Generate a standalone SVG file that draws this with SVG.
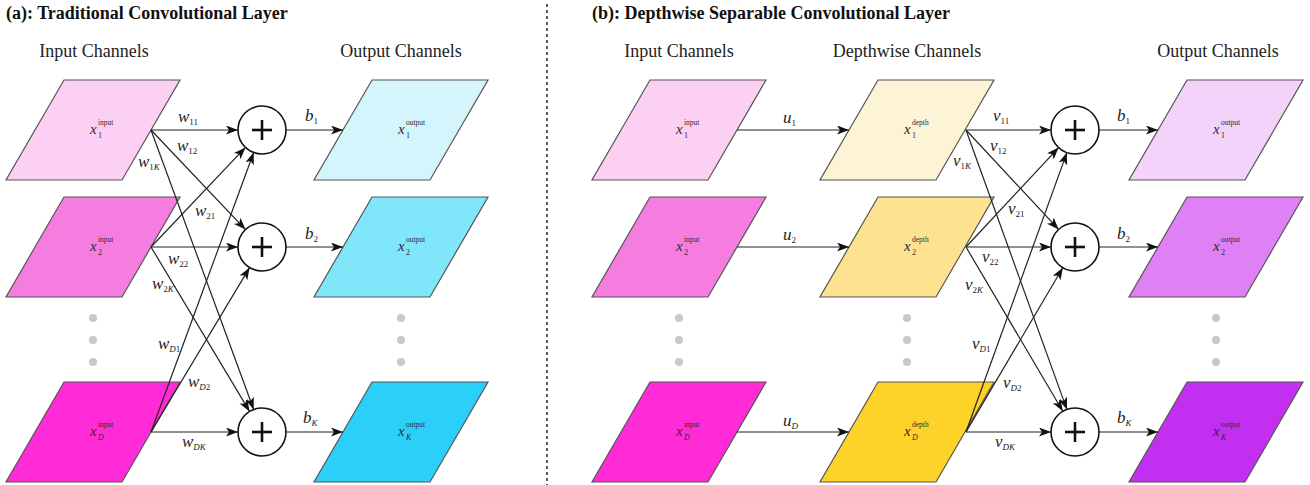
<svg xmlns="http://www.w3.org/2000/svg" width="1310" height="485" viewBox="0 0 1310 485">
<defs>
<style>
text{font-family:"Liberation Serif","Times New Roman",Times,"DejaVu Serif",serif}
.title{font-weight:bold;font-size:18px;fill:#111}
.head{font-size:18px;fill:#222;text-anchor:middle}
.pg{stroke:#555;stroke-width:1.2}
.xl{font-style:italic;font-size:15px;fill:#332833}
.sup{font-size:7.5px;fill:#332833}
.sb{font-size:8px;fill:#332833}
.sbi{font-size:8px;font-style:italic;fill:#332833}
.lb{font-style:italic;font-size:17px;fill:#222}
.s{font-style:normal;font-size:9px}
.si{font-style:italic;font-size:9px}
.cn line{stroke:#222;stroke-width:1.2;marker-end:url(#ah)}
.sum circle{fill:#fff;stroke:#111;stroke-width:1.6}
.sum line{stroke:#111;stroke-width:2.6}
.dot{fill:#c9c9c9}
</style>
<marker id="ah" markerUnits="userSpaceOnUse" markerWidth="13" markerHeight="10" refX="12" refY="4.5" orient="auto">
<path d="M0,0 L12,4.5 L0,9 L3,4.5 z" fill="#111"/>
</marker>
<polygon id="pg" points="58,0 174,0 116,100 0,100"/>
</defs>
<rect width="1310" height="485" fill="#fff"/>

<text class="title" x="6" y="19">(a): Traditional Convolutional Layer</text>
<text class="title" x="592" y="19">(b): Depthwise Separable Convolutional Layer</text>
<line x1="547" y1="4" x2="547" y2="485" stroke="#333" stroke-width="1.6" stroke-dasharray="3,3"/>

<text class="head" x="94" y="57">Input Channels</text>
<text class="head" x="401" y="57">Output Channels</text>
<text class="head" x="679" y="57">Input Channels</text>
<text class="head" x="907" y="57">Depthwise Channels</text>
<text class="head" x="1218" y="57">Output Channels</text>

<!-- Left input channels -->
<g id="a-in1"><use href="#pg" x="6" y="80" class="pg" fill="#fbd0f3"/>
<text class="xl" x="90" y="134">x</text><text class="sup" x="98" y="125">input</text><text class="sb" x="98" y="138">1</text></g>
<g id="a-in2"><use href="#pg" x="6" y="197" class="pg" fill="#f57de0"/>
<text class="xl" x="90" y="251">x</text><text class="sup" x="98" y="242">input</text><text class="sb" x="98" y="255">2</text></g>
<g id="a-inD"><use href="#pg" x="6" y="382" class="pg" fill="#ff2bd6"/>
<text class="xl" x="90" y="436">x</text><text class="sup" x="98" y="427">input</text><text class="sbi" x="98" y="440">D</text></g>
<g id="a-dots-in"><circle class="dot" cx="93" cy="318" r="4"/><circle class="dot" cx="93" cy="340" r="4"/><circle class="dot" cx="93" cy="362" r="4"/></g>

<!-- Left output channels -->
<g id="a-out1"><use href="#pg" x="314" y="80" class="pg" fill="#d5f5fc"/>
<text class="xl" x="398" y="134">x</text><text class="sup" x="406" y="125">output</text><text class="sb" x="406" y="138">1</text></g>
<g id="a-out2"><use href="#pg" x="314" y="197" class="pg" fill="#80e6f9"/>
<text class="xl" x="398" y="251">x</text><text class="sup" x="406" y="242">output</text><text class="sb" x="406" y="255">2</text></g>
<g id="a-outK"><use href="#pg" x="314" y="382" class="pg" fill="#2bd0f9"/>
<text class="xl" x="398" y="436">x</text><text class="sup" x="406" y="427">output</text><text class="sbi" x="406" y="440">K</text></g>
<g id="a-dots-out"><circle class="dot" cx="401" cy="318" r="4"/><circle class="dot" cx="401" cy="340" r="4"/><circle class="dot" cx="401" cy="362" r="4"/></g>

<!-- Right input channels -->
<g id="b-in1"><use href="#pg" x="592" y="80" class="pg" fill="#fbd0f3"/>
<text class="xl" x="676" y="134">x</text><text class="sup" x="684" y="125">input</text><text class="sb" x="684" y="138">1</text></g>
<g id="b-in2"><use href="#pg" x="592" y="197" class="pg" fill="#f57de0"/>
<text class="xl" x="676" y="251">x</text><text class="sup" x="684" y="242">input</text><text class="sb" x="684" y="255">2</text></g>
<g id="b-inD"><use href="#pg" x="592" y="382" class="pg" fill="#ff2bd6"/>
<text class="xl" x="676" y="436">x</text><text class="sup" x="684" y="427">input</text><text class="sbi" x="684" y="440">D</text></g>
<g id="b-dots-in"><circle class="dot" cx="679" cy="318" r="4"/><circle class="dot" cx="679" cy="340" r="4"/><circle class="dot" cx="679" cy="362" r="4"/></g>

<!-- Depthwise channels -->
<g id="b-dep1"><use href="#pg" x="820" y="80" class="pg" fill="#fdf4d5"/>
<text class="xl" x="904" y="134">x</text><text class="sup" x="912" y="125">depth</text><text class="sb" x="912" y="138">1</text></g>
<g id="b-dep2"><use href="#pg" x="820" y="197" class="pg" fill="#fde38f"/>
<text class="xl" x="904" y="251">x</text><text class="sup" x="912" y="242">depth</text><text class="sb" x="912" y="255">2</text></g>
<g id="b-depD"><use href="#pg" x="820" y="382" class="pg" fill="#fdd32a"/>
<text class="xl" x="904" y="436">x</text><text class="sup" x="912" y="427">depth</text><text class="sbi" x="912" y="440">D</text></g>
<g id="b-dots-dep"><circle class="dot" cx="907" cy="318" r="4"/><circle class="dot" cx="907" cy="340" r="4"/><circle class="dot" cx="907" cy="362" r="4"/></g>

<!-- Right output channels -->
<g id="b-out1"><use href="#pg" x="1129" y="80" class="pg" fill="#f4d3fb"/>
<text class="xl" x="1213" y="134">x</text><text class="sup" x="1221" y="125">output</text><text class="sb" x="1221" y="138">1</text></g>
<g id="b-out2"><use href="#pg" x="1129" y="197" class="pg" fill="#e080f5"/>
<text class="xl" x="1213" y="251">x</text><text class="sup" x="1221" y="242">output</text><text class="sb" x="1221" y="255">2</text></g>
<g id="b-outK"><use href="#pg" x="1129" y="382" class="pg" fill="#c22ff0"/>
<text class="xl" x="1213" y="436">x</text><text class="sup" x="1221" y="427">output</text><text class="sbi" x="1221" y="440">K</text></g>
<g id="b-dots-out"><circle class="dot" cx="1216" cy="318" r="4"/><circle class="dot" cx="1216" cy="340" r="4"/><circle class="dot" cx="1216" cy="362" r="4"/></g>

<!-- Sum nodes -->
<g id="a-sum1" class="sum"><circle cx="262" cy="130" r="24"/><line x1="252" y1="130" x2="272" y2="130"/><line x1="262" y1="120" x2="262" y2="140"/></g>
<g id="a-sum2" class="sum"><circle cx="262" cy="247" r="24"/><line x1="252" y1="247" x2="272" y2="247"/><line x1="262" y1="237" x2="262" y2="257"/></g>
<g id="a-sumK" class="sum"><circle cx="262" cy="432" r="24"/><line x1="252" y1="432" x2="272" y2="432"/><line x1="262" y1="422" x2="262" y2="442"/></g>
<g id="b-sum1" class="sum"><circle cx="1075" cy="130" r="24"/><line x1="1065" y1="130" x2="1085" y2="130"/><line x1="1075" y1="120" x2="1075" y2="140"/></g>
<g id="b-sum2" class="sum"><circle cx="1075" cy="247" r="24"/><line x1="1065" y1="247" x2="1085" y2="247"/><line x1="1075" y1="237" x2="1075" y2="257"/></g>
<g id="b-sumK" class="sum"><circle cx="1075" cy="432" r="24"/><line x1="1065" y1="432" x2="1085" y2="432"/><line x1="1075" y1="422" x2="1075" y2="442"/></g>

<!-- Connectors -->
<g id="connectors" class="cn">
<line x1="151" y1="130" x2="238" y2="130"/>
<line x1="151" y1="130" x2="245.5" y2="229.6"/>
<line x1="151" y1="130" x2="253.7" y2="409.5"/>
<line x1="151" y1="247" x2="245.5" y2="147.4"/>
<line x1="151" y1="247" x2="238" y2="247"/>
<line x1="151" y1="247" x2="249.6" y2="411.4"/>
<line x1="151" y1="432" x2="253.7" y2="152.5"/>
<line x1="151" y1="432" x2="249.6" y2="267.6"/>
<line x1="151" y1="432" x2="238" y2="432"/>
<line x1="286" y1="130" x2="343" y2="130"/>
<line x1="286" y1="247" x2="343" y2="247"/>
<line x1="286" y1="432" x2="343" y2="432"/>

<line x1="737" y1="130" x2="849" y2="130"/>
<line x1="737" y1="247" x2="849" y2="247"/>
<line x1="737" y1="432" x2="849" y2="432"/>

<line x1="966" y1="130" x2="1051" y2="130"/>
<line x1="966" y1="130" x2="1058.6" y2="229.4"/>
<line x1="966" y1="130" x2="1066.9" y2="409.4"/>
<line x1="966" y1="247" x2="1058.6" y2="147.6"/>
<line x1="966" y1="247" x2="1051" y2="247"/>
<line x1="966" y1="247" x2="1062.8" y2="411.3"/>
<line x1="966" y1="432" x2="1066.9" y2="152.6"/>
<line x1="966" y1="432" x2="1062.8" y2="267.7"/>
<line x1="966" y1="432" x2="1051" y2="432"/>
<line x1="1099" y1="130" x2="1158" y2="130"/>
<line x1="1099" y1="247" x2="1158" y2="247"/>
<line x1="1099" y1="432" x2="1158" y2="432"/>
</g>

<!-- Connector labels -->
<g id="labels">
<text class="lb" x="178" y="122">w<tspan class="s" dy="3">11</tspan></text>
<text class="lb" x="177" y="151">w<tspan class="s" dy="3">12</tspan></text>
<text class="lb" x="138" y="167">w<tspan class="s" dy="3">1</tspan><tspan class="si">K</tspan></text>
<text class="lb" x="195" y="216">w<tspan class="s" dy="3">21</tspan></text>
<text class="lb" x="168" y="264">w<tspan class="s" dy="3">22</tspan></text>
<text class="lb" x="152" y="289">w<tspan class="s" dy="3">2</tspan><tspan class="si">K</tspan></text>
<text class="lb" x="158" y="349">w<tspan class="si" dy="3">D</tspan><tspan class="s">1</tspan></text>
<text class="lb" x="188" y="387">w<tspan class="si" dy="3">D</tspan><tspan class="s">2</tspan></text>
<text class="lb" x="182" y="447">w<tspan class="si" dy="3">DK</tspan></text>
<text class="lb" x="305" y="121">b<tspan class="s" dy="3">1</tspan></text>
<text class="lb" x="305" y="239">b<tspan class="s" dy="3">2</tspan></text>
<text class="lb" x="303" y="423">b<tspan class="si" dy="3">K</tspan></text>

<text class="lb" x="783" y="123">u<tspan class="s" dy="3">1</tspan></text>
<text class="lb" x="783" y="240">u<tspan class="s" dy="3">2</tspan></text>
<text class="lb" x="783" y="426">u<tspan class="si" dy="3">D</tspan></text>

<text class="lb" x="993" y="121">v<tspan class="s" dy="3">11</tspan></text>
<text class="lb" x="990" y="151">v<tspan class="s" dy="3">12</tspan></text>
<text class="lb" x="953" y="166">v<tspan class="s" dy="3">1</tspan><tspan class="si">K</tspan></text>
<text class="lb" x="1008" y="214">v<tspan class="s" dy="3">21</tspan></text>
<text class="lb" x="982" y="262">v<tspan class="s" dy="3">22</tspan></text>
<text class="lb" x="965" y="290">v<tspan class="s" dy="3">2</tspan><tspan class="si">K</tspan></text>
<text class="lb" x="972" y="349">v<tspan class="si" dy="3">D</tspan><tspan class="s">1</tspan></text>
<text class="lb" x="1003" y="388">v<tspan class="si" dy="3">D</tspan><tspan class="s">2</tspan></text>
<text class="lb" x="995" y="447">v<tspan class="si" dy="3">DK</tspan></text>
<text class="lb" x="1117" y="121">b<tspan class="s" dy="3">1</tspan></text>
<text class="lb" x="1117" y="239">b<tspan class="s" dy="3">2</tspan></text>
<text class="lb" x="1117" y="423">b<tspan class="si" dy="3">K</tspan></text>
</g>
</svg>
